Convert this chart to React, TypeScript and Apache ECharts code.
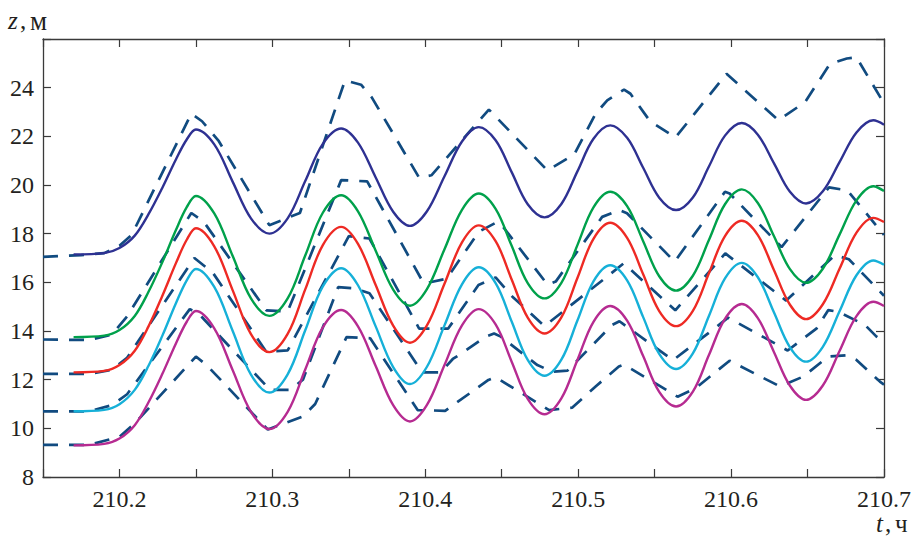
import React, { useEffect, useRef } from "react";
import * as echarts from "echarts";

// ---- data ----
const tSolid = [
  210.17, 210.19, 210.2, 210.21, 210.219, 210.228, 210.237, 210.244, 210.25,
  210.262, 210.274, 210.286, 210.298,
  210.31, 210.3215, 210.333, 210.345,
  210.356, 210.3675, 210.379, 210.39,
  210.401, 210.4125, 210.424, 210.435,
  210.446, 210.4565, 210.467, 210.478,
  210.489, 210.4995, 210.51, 210.521,
  210.532, 210.5425, 210.553, 210.564,
  210.575, 210.5855, 210.596, 210.607,
  210.6175, 210.628, 210.6385, 210.649,
  210.66, 210.671, 210.682, 210.693,
  210.7,
];

const zBlue = [
  17.15, 17.2, 17.41, 17.92, 18.8, 19.88, 21.06, 21.87, 22.28,
  21.67, 20.14, 18.63, 18.0,
  18.63, 20.16, 21.69, 22.32,
  21.74, 20.32, 18.9, 18.32,
  18.91, 20.35, 21.79, 22.38,
  21.84, 20.53, 19.21, 18.67,
  19.22, 20.56, 21.9, 22.45,
  21.94, 20.71, 19.48, 18.97,
  19.49, 20.76, 22.03, 22.55,
  22.07, 20.9, 19.72, 19.24,
  19.74, 20.95, 22.16, 22.66,
  22.48,
];

const zGreen = [
  13.75, 13.81, 14.04, 14.62, 15.61, 16.82, 18.16, 19.09, 19.55,
  18.83, 17.09, 15.34, 14.62,
  15.34, 17.1, 18.86, 19.58,
  18.92, 17.31, 15.7, 15.04,
  15.71, 17.35, 18.98, 19.65,
  19.02, 17.5, 15.97, 15.34,
  15.98, 17.53, 19.08, 19.72,
  19.13, 17.69, 16.25, 15.66,
  16.27, 17.74, 19.21, 19.82,
  19.26, 17.9, 16.54, 15.98,
  16.56, 17.97, 19.37, 19.95,
  19.75,
];

const zRed = [
  12.3, 12.36, 12.6, 13.19, 14.19, 15.44, 16.8, 17.75, 18.22,
  17.48, 15.68, 13.87, 13.13,
  13.88, 15.71, 17.53, 18.28,
  17.58, 15.9, 14.22, 13.52,
  14.22, 15.93, 17.64, 18.34,
  17.69, 16.12, 14.55, 13.9,
  14.56, 16.18, 17.79, 18.45,
  17.83, 16.33, 14.82, 14.2,
  14.83, 16.37, 17.9, 18.53,
  17.94, 16.51, 15.08, 14.49,
  15.1, 16.57, 18.04, 18.65,
  18.48,
];

const zCyan = [
  10.7, 10.76, 10.99, 11.58, 12.57, 13.8, 15.15, 16.08, 16.55,
  15.81, 14.01, 12.21, 11.47,
  12.22, 14.03, 15.83, 16.58,
  15.88, 14.2, 12.52, 11.82,
  12.52, 14.22, 15.92, 16.62,
  15.97, 14.39, 12.81, 12.16,
  12.82, 14.43, 16.04, 16.7,
  16.08, 14.57, 13.06, 12.44,
  13.08, 14.62, 16.16, 16.8,
  16.21, 14.77, 13.33, 12.74,
  13.35, 14.82, 16.29, 16.9,
  16.72,
];

const zMagenta = [
  9.3, 9.36, 9.58, 10.13, 11.07, 12.23, 13.5, 14.38, 14.82,
  14.11, 12.4, 10.68, 9.97,
  10.68, 12.42, 14.15, 14.86,
  14.19, 12.57, 10.95, 10.28,
  10.95, 12.59, 14.23, 14.9,
  14.27, 12.74, 11.21, 10.58,
  11.23, 12.81, 14.38, 15.03,
  14.43, 12.97, 11.5, 10.9,
  11.51, 13.01, 14.5, 15.11,
  14.53, 13.14, 11.75, 11.17,
  11.76, 13.19, 14.61, 15.2,
  15.03,
];

const dash1 = [
  [210.15, 17.05], [210.175, 17.12], [210.19, 17.2], [210.2, 17.5], [210.208, 17.95],
  [210.247, 22.93], [210.254, 22.62], [210.265, 21.8], [210.298, 18.35], [210.318, 18.85],
  [210.3475, 24.3], [210.358, 24.12], [210.365, 23.6], [210.396, 20.3], [210.404, 20.4],
  [210.4416, 23.1], [210.4798, 20.6], [210.4974, 21.25], [210.5114, 22.93], [210.519, 23.48],
  [210.53, 23.92], [210.5342, 23.75], [210.547, 22.62], [210.5636, 21.95], [210.597, 24.57],
  [210.631, 22.66], [210.6484, 23.41], [210.6647, 24.98], [210.6757, 25.2], [210.682, 25.25],
  [210.7, 23.35],
];

const dash2 = [
  [210.15, 13.65], [210.18, 13.63], [210.195, 13.85], [210.205, 14.6], [210.247, 18.85],
  [210.255, 18.5], [210.296, 14.85], [210.31, 14.8], [210.345, 20.2], [210.362, 20.15],
  [210.399, 15.95], [210.414, 16.15], [210.435, 18.08], [210.447, 18.48], [210.45, 18.35],
  [210.48, 15.9], [210.4853, 16.03], [210.5157, 18.69], [210.527, 18.97], [210.5319, 18.84],
  [210.5631, 16.85], [210.596, 19.72], [210.599, 19.65], [210.633, 17.45], [210.664, 19.9],
  [210.676, 19.78], [210.7, 17.95],
];

const dash3 = [
  [210.15, 12.24], [210.18, 12.24], [210.195, 12.4], [210.205, 12.9], [210.249, 17.0],
  [210.261, 16.4], [210.296, 13.15], [210.31, 13.2], [210.35, 17.9], [210.3635, 17.8],
  [210.396, 14.1], [210.415, 14.1], [210.4348, 15.89], [210.446, 16.2], [210.457, 15.41],
  [210.478, 14.2], [210.5298, 16.78], [210.5635, 14.85], [210.5962, 17.19], [210.636, 15.25],
  [210.668, 17.12], [210.677, 16.95], [210.7, 15.45],
];

const dash4 = [
  [210.15, 10.7], [210.18, 10.7], [210.195, 10.95], [210.205, 11.4], [210.246, 14.9],
  [210.2526, 14.66], [210.2985, 11.58], [210.3115, 11.58], [210.32, 12.0], [210.343, 15.8],
  [210.354, 15.75], [210.3635, 15.55], [210.398, 12.3], [210.41, 12.3], [210.418, 12.85],
  [210.4242, 13.1], [210.4396, 13.77], [210.445, 13.9], [210.4494, 13.77], [210.4733, 12.6],
  [210.483, 12.33], [210.493, 12.37], [210.5222, 14.25], [210.527, 14.4], [210.562, 12.8],
  [210.5907, 14.18], [210.598, 14.55], [210.637, 13.2], [210.656, 14.11], [210.6636, 14.86],
  [210.6701, 14.79], [210.6875, 14.25], [210.6951, 13.77], [210.7, 13.55],
];

const dash5 = [
  [210.15, 9.32], [210.18, 9.32], [210.2, 9.65], [210.21, 10.2], [210.25, 12.95],
  [210.257, 12.6], [210.297, 9.95], [210.32, 10.49], [210.328, 11.0], [210.3485, 13.75],
  [210.364, 13.7], [210.395, 10.75], [210.413, 10.72], [210.4413, 11.99], [210.446, 12.1],
  [210.481, 10.75], [210.496, 10.85], [210.5114, 11.72], [210.5266, 12.54], [210.53, 12.62],
  [210.565, 11.3], [210.577, 11.66], [210.599, 12.78], [210.632, 11.72], [210.6473, 12.13],
  [210.6636, 12.95], [210.675, 13.0], [210.682, 12.81], [210.6973, 11.92], [210.7, 11.8],
];

const X_MIN = 210.15;
const X_MAX = 210.7;
const X_STEP = 0.05;
const Y_MIN = 8;
const Y_MAX = 26;
const Y_STEP = 2;

const SERIF = "Liberation Serif";
const INK = "#231f20";
const DASH_COLOR = "#114b80";

export default function App() {
  const ref = useRef<HTMLDivElement | null>(null);

  useEffect(() => {
    if (!ref.current) return;
    const chart = echarts.init(ref.current, undefined, { renderer: "svg" });

    const pair = (vals: number[]) => tSolid.map((t, i) => [t, vals[i]]);
    const solid = (name: string, vals: number[], color: string) => ({
      name,
      type: "line",
      data: pair(vals),
      smooth: 0.35,
      symbol: "none",
      z: 3,
      lineStyle: { color, width: 2.4 },
    });
    const dashed = (name: string, pts: number[][]) => ({
      name,
      type: "line",
      data: pts,
      smooth: false,
      symbol: "none",
      z: 2,
      lineStyle: { color: DASH_COLOR, width: 2.7, type: [15, 11], cap: "butt" },
    });

    const axisLine = { show: true, onZero: false, lineStyle: { color: "#3a3a3a", width: 1.3 } };
    const axisTick = { show: true, inside: true, length: 8, lineStyle: { color: "#3a3a3a", width: 1.2 } };

    const xFmt = (v: number) => {
      const k = Math.round(v * 100);
      return k % 10 === 0 ? (k / 100).toFixed(1) : "";
    };

    const labelStyle = { fontFamily: SERIF, fontSize: 24, color: INK };

    const title = (x: number, y: number, text: string, italic: boolean, size = 25) => ({
      type: "text",
      x,
      y,
      style: {
        text,
        fill: INK,
        fontFamily: SERIF,
        fontSize: size,
        fontStyle: italic ? "italic" : "normal",
        verticalAlign: "top",
        align: "left",
      },
    });

    const option: any = {
      animation: false,
      grid: { left: 43, right: 27, top: 39, bottom: 61, containLabel: false },
      xAxis: [
        {
          type: "value", min: X_MIN, max: X_MAX, interval: X_STEP, position: "bottom",
          axisLine, axisTick, splitLine: { show: false },
          axisLabel: {
            ...labelStyle, formatter: xFmt, margin: 10,
            showMinLabel: true, showMaxLabel: true, hideOverlap: false,
          },
        },
        {
          type: "value", min: X_MIN, max: X_MAX, interval: X_STEP, position: "top",
          axisLine, axisTick, splitLine: { show: false }, axisLabel: { show: false },
        },
      ],
      yAxis: [
        {
          type: "value", min: Y_MIN, max: Y_MAX, interval: Y_STEP, position: "left",
          axisLine, axisTick, splitLine: { show: false },
          axisLabel: {
            ...labelStyle,
            formatter: (v: number) => (v >= Y_MAX ? "" : String(v)),
            margin: 9,
          },
        },
        {
          type: "value", min: Y_MIN, max: Y_MAX, interval: Y_STEP, position: "right",
          axisLine, axisTick, splitLine: { show: false }, axisLabel: { show: false },
        },
      ],
      graphic: [
        title(8, 8, "z", true),
        title(20, 8, ",", false),
        title(30, 7, "м", false, 27),
        title(876, 511, "t", true),
        title(885, 511, ",", false),
        title(895, 511, "ч", false, 25),
      ],
      series: [
        dashed("d1", dash1),
        dashed("d2", dash2),
        dashed("d3", dash3),
        dashed("d4", dash4),
        dashed("d5", dash5),
        solid("blue", zBlue, "#2e3192"),
        solid("green", zGreen, "#00a14b"),
        solid("red", zRed, "#ee2a24"),
        solid("cyan", zCyan, "#16b0d8"),
        solid("magenta", zMagenta, "#b62b91"),
      ],
    };

    chart.setOption(option);
    return () => chart.dispose();
  }, []);

  return (
    <div
      ref={ref}
      style={{ position: "fixed", left: 0, top: 0, width: 914, height: 538, background: "#fff" }}
    />
  );
}
